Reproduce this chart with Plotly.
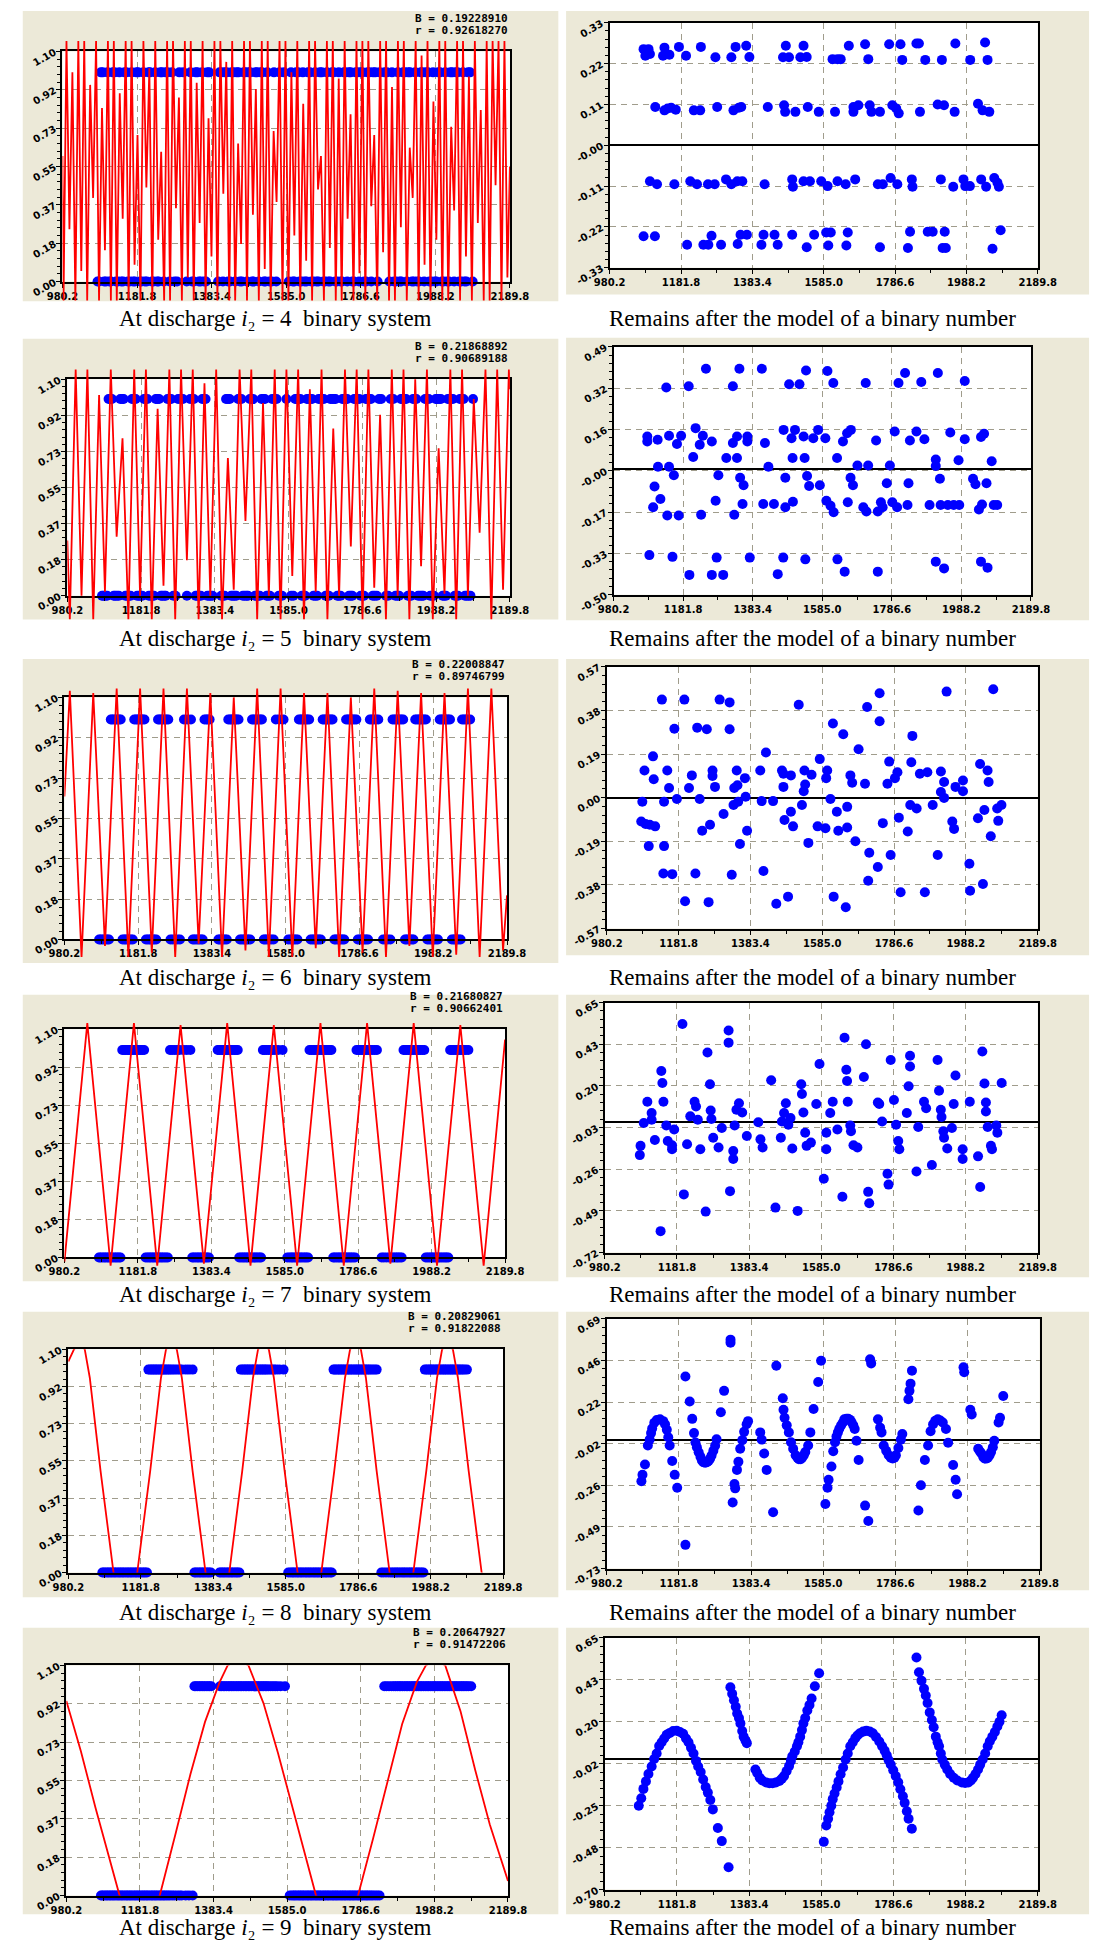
import numpy as np
import plotly.graph_objects as go

W, H = 1110, 1959

# ---------------------------------------------------------------- data
# observation times (read from the blue points)
obs_x = [1075, 1079, 1084, 1089, 1093, 1098, 1102, 1107, 1111, 1116, 1121, 1125, 1130, 1134, 1139,
         1144, 1148, 1153, 1157, 1162, 1167, 1171, 1176, 1180, 1185, 1190, 1194, 1199, 1203, 1208,
         1213, 1217, 1222, 1226, 1231, 1236, 1240, 1245, 1249, 1254, 1259, 1264, 1270, 1276, 1283,
         1290, 1296, 1307, 1316, 1326, 1331, 1335, 1340, 1345, 1349, 1354, 1358, 1363, 1368, 1372,
         1377, 1401, 1405, 1410, 1414, 1419, 1424, 1428, 1433, 1437, 1442, 1447, 1451, 1456, 1460,
         1465, 1470, 1474, 1479, 1483, 1488, 1493, 1497, 1502, 1506, 1511, 1516, 1520, 1525, 1529,
         1534, 1540, 1546, 1552, 1558, 1567, 1579, 1592, 1598, 1603, 1607, 1612, 1617, 1621, 1626,
         1630, 1635, 1640, 1644, 1649, 1653, 1658, 1663, 1667, 1672, 1676, 1681, 1686, 1690, 1695,
         1699, 1704, 1709, 1713, 1718, 1722, 1727, 1732, 1736, 1741, 1745, 1750, 1755, 1759, 1764,
         1768, 1773, 1778, 1782, 1787, 1791, 1796, 1801, 1805, 1810, 1815, 1820, 1826, 1832, 1838,
         1851, 1857, 1864, 1871, 1877, 1882, 1887, 1892, 1896, 1901, 1906, 1911, 1915, 1920, 1925,
         1930, 1934, 1939, 1944, 1949, 1953, 1958, 1963, 1968, 1972, 1977, 1982, 1987, 1991, 1996,
         2001, 2006, 2010, 2015, 2020, 2025, 2029, 2034, 2039, 2044, 2048, 2053, 2058, 2063, 2067,
         2072, 2077, 2082, 2089]
obs_origin = 1075                      # value 0 of the binary counter
digit_rank = [4, 5, 6, 7, 8, 9]        # i2 for the six rows

B_values = ["0.19228910", "0.21868892", "0.22008847", "0.21680827", "0.20829061", "0.20647927"]
r_values = ["0.92618270", "0.90689188", "0.89746799", "0.90662401", "0.91822088", "0.91472206"]

x_ticktext = ["980.2", "1181.8", "1383.4", "1585.0", "1786.6", "1988.2", "2189.8"]
x_range = (980.2, 2189.8)
left_range = (0.0, 1.1)
left_ticktext = ["0.00", "0.18", "0.37", "0.55", "0.73", "0.92", "1.10"]
right_ranges = [(-0.33, 0.33), (-0.50, 0.49), (-0.57, 0.57), (-0.72, 0.66), (-0.73, 0.69), (-0.70, 0.65)]
right_ticktext = [
    ["-0.33", "-0.22", "-0.11", "-0.00", "0.11", "0.22", "0.33"],
    ["-0.50", "-0.33", "-0.17", "-0.00", "0.16", "0.32", "0.49"],
    ["-0.57", "-0.38", "-0.19", "0.00", "0.19", "0.38", "0.57"],
    ["-0.72", "-0.49", "-0.26", "-0.03", "0.20", "0.43", "0.65"],
    ["-0.73", "-0.49", "-0.26", "-0.02", "0.22", "0.46", "0.69"],
    ["-0.70", "-0.48", "-0.25", "-0.02", "0.20", "0.43", "0.65"],
]

# ---- model curves (red), read as extremes of the sampled model
m1_start, m1_end = 0.60, 0.55
m1_trough_x = [983, 999, 1015, 1031, 1047, 1063, 1079, 1095, 1111, 1127, 1143, 1159, 1175, 1191, 1207,
               1223, 1239, 1255, 1271, 1287, 1303, 1319, 1335, 1351, 1367, 1383, 1399, 1415, 1431, 1447,
               1463, 1479, 1495, 1511, 1527, 1543, 1559, 1575, 1591, 1607, 1623, 1639, 1655, 1671, 1687,
               1703, 1719, 1735, 1751, 1767, 1783, 1799, 1815, 1831, 1847, 1863, 1879, 1895, 1911, 1927,
               1943, 1959, 1975, 1991, 2007, 2023, 2039, 2055, 2071, 2087, 2103, 2119, 2135, 2151, 2167, 2183]
m1_trough_y = [-0.09, 0.25, -0.09, 0.05, -0.09, 0.40, -0.09, 0.15, -0.09, -0.09, 0.30, -0.09, 0.08, -0.09, 0.45,
               -0.09, 0.20, -0.09, -0.09, 0.35, -0.09, 0.02, -0.09, 0.28, -0.09, 0.12, -0.09, 0.42, -0.09, -0.09,
               0.18, -0.09, 0.32, -0.09, 0.06, -0.09, 0.38, -0.09, -0.09, 0.22, -0.09, 0.10, -0.09, 0.44, -0.09,
               0.16, -0.09, -0.09, 0.30, -0.09, 0.04, -0.09, 0.36, -0.09, 0.14, -0.09, -0.09, 0.26, -0.09, 0.40,
               -0.09, 0.08, -0.09, 0.20, -0.09, -0.09, 0.34, -0.09, 0.12, -0.09, 0.28, -0.09, -0.09, 0.46, -0.09, 0.02]
m1_peak_x = [991, 1007, 1023, 1039, 1055, 1071, 1087, 1103, 1119, 1135, 1151, 1167, 1183, 1199, 1215,
             1231, 1247, 1263, 1279, 1295, 1311, 1327, 1343, 1359, 1375, 1391, 1407, 1423, 1439, 1455,
             1471, 1487, 1503, 1519, 1535, 1551, 1567, 1583, 1599, 1615, 1631, 1647, 1663, 1679, 1695,
             1711, 1727, 1743, 1759, 1775, 1791, 1807, 1823, 1839, 1855, 1871, 1887, 1903, 1919, 1935,
             1951, 1967, 1983, 1999, 2015, 2031, 2047, 2063, 2079, 2095, 2111, 2127, 2143, 2159, 2175]
m1_peak_y = [1.15, 1.00, 1.15, 1.15, 0.94, 1.15, 0.83, 1.15, 1.15, 0.90, 1.15, 1.15, 0.70, 1.15, 1.02,
             1.15, 0.62, 1.15, 1.15, 0.88, 1.15, 1.15, 0.95, 1.15, 0.78, 1.15, 1.15, 1.05, 1.15, 0.66,
             1.15, 1.15, 0.92, 1.15, 1.15, 0.72, 1.15, 1.15, 1.00, 1.15, 0.85, 1.15, 1.15, 0.60, 1.15,
             1.15, 0.97, 1.15, 0.80, 1.15, 1.15, 1.15, 0.70, 1.15, 1.15, 0.93, 1.15, 1.15, 0.64, 1.15,
             1.08, 1.15, 0.86, 1.15, 1.15, 0.74, 1.15, 1.15, 0.98, 1.15, 0.82, 1.15, 1.15, 1.15, 1.15]

m2_start, m2_end = 0.28, 1.05
m2_trough_x = [987, 1019, 1051, 1083, 1115, 1147, 1179, 1211, 1243, 1275, 1307, 1339, 1371, 1403, 1435,
               1467, 1499, 1531, 1563, 1595, 1627, 1659, 1691, 1723, 1755, 1787, 1819, 1851, 1883, 1915,
               1947, 1979, 2011, 2043, 2075, 2107, 2139, 2171]
m2_trough_y = [-0.12, 0.00, -0.12, 0.02, 0.30, -0.12, 0.00, -0.12, 0.05, -0.12,
               0.18, -0.12, 0.00, -0.12, 0.03, 0.38, -0.12, 0.00, -0.12, 0.10,
               -0.12, 0.02, -0.12, 0.00, 0.25, -0.12, 0.04, -0.12, 0.00, -0.12,
               0.15, -0.12, 0.01, -0.12, 0.00, 0.32, -0.12, 0.03]
m2_peak_x = [1003, 1035, 1067, 1099, 1131, 1163, 1195, 1227, 1259, 1291, 1323, 1355, 1387, 1419, 1451,
             1483, 1515, 1547, 1579, 1611, 1643, 1675, 1707, 1739, 1771, 1803, 1835, 1867, 1899, 1931,
             1963, 1995, 2027, 2059, 2091, 2123, 2155, 2187]
m2_peak_y = [1.15, 1.15, 1.02, 1.15, 0.80, 1.15, 1.15, 0.95, 1.15, 1.15,
             1.15, 1.08, 1.15, 0.70, 1.15, 1.15, 0.98, 1.15, 1.15, 1.15,
             1.05, 1.15, 0.85, 1.15, 1.15, 1.15, 0.92, 1.15, 1.15, 1.10,
             1.15, 0.75, 1.15, 1.15, 1.00, 1.15, 1.15, 1.15]

m3_start, m3_end = 0.65, 0.20
m3_peak_x = [995, 1059, 1123, 1187, 1251, 1315, 1379, 1443, 1507, 1571, 1635, 1699, 1763, 1827, 1891,
             1955, 2019, 2083, 2147]
m3_peak_y = [1.13, 1.12, 1.14, 1.14, 1.14, 1.14, 1.12, 1.10, 1.14, 1.14, 1.12, 1.12, 1.10, 1.14, 1.13,
             1.12, 1.12, 1.14, 1.14]
m3_trough_x = [1027, 1091, 1155, 1219, 1283, 1347, 1411, 1475, 1539, 1603, 1667, 1731, 1795, 1859, 1923,
               1987, 2051, 2115, 2179]
m3_trough_y = [-0.08, -0.03, -0.08, -0.06, -0.08, -0.02, -0.08, -0.05, -0.08, -0.08, -0.04, -0.08, -0.06,
               -0.08, -0.03, -0.08, -0.07, -0.08, -0.05]

m4_start, m4_end = -0.02, 1.05
m4_peak_x = [1043, 1171, 1299, 1427, 1555, 1683, 1811, 1939, 2067]
m4_peak_y = [1.13, 1.13, 1.12, 1.13, 1.12, 1.13, 1.13, 1.13, 1.12]
m4_trough_x = [1107, 1235, 1363, 1491, 1619, 1747, 1875, 2003, 2131]
m4_trough_y = [-0.04, -0.04, -0.03, -0.04, -0.04, -0.04, -0.03, -0.04, -0.04]

m5_x = [980.2, 996, 1011, 1026, 1040, 1070, 1106, 1139, 1172, 1208, 1238, 1252, 1267, 1282, 1296, 1326,
        1362, 1395, 1428, 1464, 1494, 1508, 1523, 1538, 1552, 1582, 1618, 1651, 1684, 1720, 1750, 1764,
        1779, 1794, 1808, 1838, 1874, 1907, 1940, 1976, 2006, 2020, 2035, 2050, 2064, 2094, 2130, 2163, 2189.8]
m5_y = [1.04, 1.10, 1.13, 1.10, 0.96, 0.50, 0.00, -0.12, 0.00, 0.50, 0.96, 1.10, 1.13, 1.10, 0.96, 0.50,
        0.00, -0.12, 0.00, 0.50, 0.96, 1.10, 1.13, 1.10, 0.96, 0.50, 0.00, -0.12, 0.00, 0.50, 0.96, 1.10,
        1.13, 1.10, 0.96, 0.50, 0.00, -0.12, 0.00, 0.50, 0.96, 1.10, 1.13, 1.10, 0.96, 0.50, 0.00, -0.12, -0.02]

m6_x = [980.2, 1020, 1060, 1100, 1126, 1180, 1236, 1280, 1320, 1360, 1400, 1422, 1450, 1479, 1520, 1560,
        1600, 1640, 1664, 1720, 1779, 1820, 1860, 1900, 1940, 1965, 1991, 2018, 2060, 2100, 2140, 2189.8]
m6_y = [0.93, 0.69, 0.42, 0.16, 0.00, -0.13, 0.00, 0.30, 0.58, 0.83, 1.02, 1.10, 1.13, 1.10, 0.92, 0.68,
        0.42, 0.16, 0.00, -0.13, 0.00, 0.27, 0.55, 0.82, 1.02, 1.10, 1.13, 1.10, 0.88, 0.60, 0.34, 0.07]

# ---- residuals (right column), (x, residual)
resid_1 = [(1076, 0.259), (1090, 0.259), (1081, 0.241), (1094, 0.246), (1135, 0.263), (1140, 0.246), (1149, 0.244),
           (1131, 0.241), (1176, 0.265), (1196, 0.241), (1238, 0.265), (1279, 0.237), (1324, 0.237), (1336, 0.265),
           (1366, 0.268), (1375, 0.238), (1470, 0.237), (1487, 0.237), (1478, 0.268), (1519, 0.237), (1537, 0.238),
           (1528, 0.268), (1610, 0.232), (1624, 0.232), (1633, 0.232), (1656, 0.268), (1702, 0.272), (1711, 0.232),
           (1770, 0.272), (1802, 0.272), (1807, 0.23), (1847, 0.274), (1854, 0.274), (1872, 0.23), (1919, 0.23),
           (1957, 0.274), (1999, 0.23), (2041, 0.277), (2048, 0.23),
           (1109, 0.103), (1135, 0.094), (1144, 0.099), (1154, 0.101), (1167, 0.096), (1218, 0.094), (1236, 0.094),
           (1284, 0.103), (1330, 0.094), (1345, 0.101), (1352, 0.103), (1427, 0.103), (1473, 0.108), (1476, 0.09),
           (1505, 0.09), (1540, 0.103), (1571, 0.09), (1617, 0.09), (1669, 0.103), (1669, 0.09), (1683, 0.108),
           (1715, 0.108), (1720, 0.09), (1744, 0.09), (1779, 0.108), (1790, 0.099), (1797, 0.086), (1857, 0.09),
           (1907, 0.11), (1925, 0.108), (1955, 0.09), (2021, 0.112), (2034, 0.094), (2053, 0.09),
           (1094, -0.097), (1114, -0.105), (1163, -0.105), (1208, -0.097), (1227, -0.105), (1258, -0.105),
           (1277, -0.105), (1309, -0.092), (1324, -0.105), (1341, -0.097), (1355, -0.097), (1418, -0.105),
           (1496, -0.092), (1498, -0.112), (1528, -0.097), (1546, -0.097), (1578, -0.097), (1596, -0.11),
           (1624, -0.097), (1647, -0.105), (1674, -0.092), (1738, -0.105), (1752, -0.105), (1774, -0.088),
           (1793, -0.105), (1834, -0.092), (1836, -0.112), (1916, -0.092), (1951, -0.112), (1980, -0.092),
           (1985, -0.11), (1998, -0.11), (2030, -0.092), (2044, -0.112), (2067, -0.088), (2076, -0.101), (2080, -0.112),
           (1076, -0.245), (1108, -0.245), (1199, -0.268), (1245, -0.268), (1259, -0.268), (1268, -0.244),
           (1295, -0.268), (1342, -0.266), (1350, -0.241), (1368, -0.241), (1409, -0.268), (1415, -0.241),
           (1446, -0.241), (1455, -0.268), (1496, -0.241), (1537, -0.275), (1558, -0.241), (1592, -0.235),
           (1605, -0.235), (1598, -0.27), (1649, -0.27), (1653, -0.235), (1744, -0.275), (1823, -0.277),
           (1829, -0.233), (1879, -0.233), (1893, -0.233), (1921, -0.277), (1930, -0.277), (1927, -0.233),
           (2062, -0.279), (2085, -0.229)]

resid_2 = [(1078, 0.132), (1078, 0.112), (1108, 0.119), (1133, 0.327), (1141, 0.135), (1164, 0.102), (1176, 0.135),
           (1198, 0.332), (1211, 0.05), (1218, 0.165), (1230, 0.099), (1239, 0.135), (1248, 0.402), (1265, 0.112),
           (1307, 0.046), (1326, 0.106), (1326, 0.332), (1338, 0.132), (1338, 0.046), (1345, 0.402), (1368, 0.132),
           (1368, 0.112), (1410, 0.402), (1419, 0.106), (1429, 0.011), (1473, 0.158), (1489, 0.34), (1496, 0.125),
           (1506, 0.158), (1499, 0.046), (1519, 0.34), (1531, 0.132), (1534, 0.046), (1538, 0.395), (1559, 0.125),
           (1573, 0.158), (1594, 0.125), (1600, 0.393), (1617, 0.345), (1628, 0.046), (1645, 0.112), (1657, 0.145),
           (1668, 0.158), (1687, 0.016), (1711, 0.345), (1718, 0.016), (1741, 0.116), (1781, 0.016), (1795, 0.152),
           (1806, 0.345), (1825, 0.385), (1839, 0.116), (1858, 0.152), (1872, 0.349), (1881, 0.121), (1914, 0.04),
           (1914, 0.014), (1920, 0.385), (1956, 0.148), (1980, 0.037), (1998, 0.353), (1998, 0.121), (2045, 0.13),
           (2054, 0.143), (2076, 0.033),
           (1099, -0.068), (1116, -0.118), (1095, -0.151), (1109, 0.011), (1141, 0.011), (1155, -0.023),
           (1136, -0.184), (1169, -0.184), (1084, -0.342), (1151, -0.349), (1200, -0.421), (1234, -0.181),
           (1265, -0.421), (1298, -0.421), (1276, -0.125), (1279, -0.352), (1284, -0.023), (1330, -0.181),
           (1347, -0.033), (1357, -0.063), (1354, -0.138), (1375, -0.352), (1414, -0.138), (1445, -0.138),
           (1456, -0.418), (1472, -0.352), (1478, -0.033), (1478, -0.151), (1500, -0.129), (1536, -0.359),
           (1541, -0.026), (1547, -0.066), (1578, -0.063), (1597, -0.125), (1609, -0.145), (1618, -0.171),
           (1629, -0.359), (1650, -0.408), (1659, -0.131), (1667, -0.033), (1674, -0.063), (1704, -0.151),
           (1713, -0.168), (1746, -0.408), (1746, -0.168), (1755, -0.131), (1760, -0.151), (1772, -0.055),
           (1788, -0.131), (1802, -0.151), (1832, -0.142), (1835, -0.055), (1896, -0.142), (1914, -0.368),
           (1938, -0.395), (1926, -0.037), (1928, -0.142), (1949, -0.142), (1966, -0.142), (1982, -0.142),
           (2022, -0.037), (2029, -0.059), (2039, -0.16), (2048, -0.14), (2045, -0.368), (2064, -0.392),
           (2061, -0.055), (2082, -0.142), (2092, -0.142)]

resid_3 = [(1080, -0.018), (1086, 0.118), (1077, -0.104), (1089, -0.115), (1101, -0.118), (1116, -0.125),
           (1098, -0.211), (1110, 0.18), (1112, 0.08), (1135, 0.427), (1141, -0.018), (1141, -0.211), (1139, -0.33),
           (1164, -0.333), (1150, 0.118), (1155, 0.042), (1170, 0.30), (1177, -0.006), (1198, 0.427), (1200, -0.451),
           (1211, 0.042), (1219, 0.097), (1229, -0.33), (1234, 0.305), (1241, -0.006), (1248, -0.144), (1261, 0.298),
           (1266, -0.455), (1270, -0.118), (1277, 0.118), (1277, 0.094), (1284, 0.047), (1297, 0.427), (1308, -0.071),
           (1325, 0.415), (1325, 0.298), (1331, -0.336), (1336, -0.032), (1349, -0.018), (1338, 0.042), (1345, 0.118),
           (1347, 0.054), (1354, -0.202), (1368, 0.085), (1370, 0.004), (1374, -0.144), (1411, 0.118), (1415, -0.015),
           (1420, -0.319), (1427, 0.197), (1447, -0.015), (1456, -0.462), (1472, 0.118), (1476, 0.104), (1497, 0.097),
           (1476, 0.047), (1479, -0.097), (1489, -0.431), (1497, -0.061), (1503, -0.125), (1519, 0.405),
           (1528, -0.032), (1533, 0.028), (1537, 0.057), (1535, 0.118), (1555, 0.10), (1546, -0.197), (1572, -0.125),
           (1578, 0.168), (1594, -0.133), (1599, 0.118), (1596, 0.085), (1608, -0.006), (1615, 0.323), (1617, -0.431),
           (1626, -0.061), (1630, -0.144), (1644, 0.276), (1651, -0.477), (1655, -0.13), (1655, -0.04), (1664, 0.097),
           (1669, 0.065), (1678, -0.19), (1687, 0.211), (1705, 0.061), (1711, 0.395), (1717, -0.24), (1714, -0.362),
           (1741, -0.302), (1746, 0.455), (1746, 0.333), (1755, -0.111), (1768, 0.061), (1773, 0.157), (1777, -0.25),
           (1789, 0.085), (1796, 0.111), (1800, -0.087), (1805, -0.412), (1825, -0.147), (1832, -0.032),
           (1850, -0.047), (1835, 0.154), (1838, 0.269), (1859, 0.104), (1880, 0.111), (1873, -0.412), (1895, -0.032),
           (1909, -0.25), (1918, 0.114), (1927, 0.068), (1918, 0.025), (1927, -0.001), (1934, 0.462), (1950, -0.104),
           (1955, -0.136), (1959, 0.047), (1980, 0.075), (1980, 0.028), (1998, -0.288), (2000, -0.405), (2022, -0.09),
           (2028, 0.147), (2036, -0.376), (2040, -0.054), (2049, 0.118), (2052, 0.068), (2058, -0.168), (2065, 0.472),
           (2076, -0.047), (2079, -0.101), (2088, -0.032)]

resid_4 = [(1080, -0.131), (1078, -0.182), (1089, -0.005), (1099, 0.113), (1111, 0.05), (1111, 0.013), (1120, -0.099),
           (1138, 0.282), (1141, 0.216), (1144, 0.113), (1152, -0.019), (1156, -0.104), (1168, -0.128), (1168, -0.15),
           (1136, -0.602), (1174, -0.041), (1197, 0.542), (1201, -0.399), (1210, -0.122), (1219, 0.032), (1231, 0.113),
           (1235, 0.086), (1240, 0.013), (1247, -0.15), (1262, -0.494), (1267, 0.385), (1274, 0.209), (1276, 0.064),
           (1278, 0.017), (1283, -0.086), (1298, -0.14), (1307, -0.032), (1326, 0.506), (1326, 0.439), (1330, -0.381),
           (1339, -0.159), (1339, -0.204), (1343, -0.019), (1348, 0.068), (1355, 0.104), (1364, 0.053), (1377, -0.077),
           (1409, -0.001), (1415, -0.095), (1421, -0.14), (1445, 0.231), (1457, -0.472), (1472, -0.086), (1475, 0.004),
           (1481, 0.05), (1486, 0.104), (1493, -0.014), (1499, 0.023), (1504, -0.146), (1519, -0.49), (1529, 0.209),
           (1531, 0.155), (1535, 0.053), (1540, -0.059), (1544, -0.131), (1556, -0.113), (1571, 0.10), (1580, 0.321),
           (1592, -0.313), (1599, -0.059), (1599, -0.15), (1610, 0.05), (1617, 0.113), (1630, -0.041), (1644, -0.412),
           (1650, 0.466), (1655, 0.289), (1657, 0.227), (1659, 0.113), (1666, -0.019), (1668, -0.05), (1675, -0.128),
           (1686, -0.14), (1704, 0.249), (1710, 0.43), (1716, -0.385), (1719, -0.448), (1743, 0.108), (1747, 0.10),
           (1755, 0.004), (1770, -0.285), (1773, -0.345), (1779, 0.343), (1788, 0.122), (1794, -0.014), (1800, -0.104),
           (1803, -0.15), (1824, 0.05), (1829, 0.198), (1833, 0.367), (1833, 0.307), (1851, -0.273), (1856, -0.027),
           (1872, 0.113), (1878, 0.077), (1894, -0.237), (1910, 0.343), (1914, 0.173), (1919, 0.068), (1921, 0.028),
           (1926, -0.05), (1928, -0.086), (1937, -0.146), (1950, -0.032), (1955, 0.10), (1960, 0.258), (1980, -0.15),
           (1980, -0.204), (2000, 0.113), (2023, -0.189), (2029, -0.358), (2035, 0.39), (2041, 0.213), (2045, 0.108),
           (2045, 0.059), (2050, -0.027), (2059, -0.131), (2062, -0.15), (2074, -0.019), (2077, -0.059), (2089, 0.216)]

resid_5 = [(1077, -0.234), (1080, -0.197), (1087, -0.138), (1095, -0.03), (1100, 0.003), (1104, 0.04), (1107, 0.066),
           (1113, 0.099), (1120, 0.114), (1129, 0.118), (1138, 0.108), (1143, 0.09), (1148, 0.059), (1152, 0.016),
           (1156, -0.03), (1163, -0.119), (1170, -0.197), (1177, -0.271), (1200, 0.362), (1200, -0.595), (1212, 0.22),
           (1219, 0.121), (1224, 0.04), (1228, -0.013), (1232, -0.04), (1237, -0.069), (1242, -0.095), (1246, -0.115),
           (1250, -0.125), (1255, -0.128), (1260, -0.126), (1264, -0.12), (1269, -0.105), (1273, -0.087), (1278, -0.06),
           (1283, -0.032), (1287, 0.005), (1299, 0.158), (1308, 0.28), (1326, 0.571), (1326, 0.553), (1332, -0.354),
           (1337, -0.249), (1339, -0.274), (1344, -0.169), (1348, -0.123), (1353, -0.049), (1359, 0.0), (1364, 0.047),
           (1371, 0.09), (1375, 0.108), (1409, 0.044), (1413, 0.003), (1420, -0.076), (1427, -0.169), (1445, -0.41),
           (1454, 0.423), (1472, 0.238), (1474, 0.173), (1477, 0.127), (1483, 0.084), (1489, 0.044), (1495, -0.012),
           (1501, -0.049), (1508, -0.086), (1513, -0.1), (1517, -0.108), (1522, -0.108), (1526, -0.1), (1531, -0.085),
           (1535, -0.067), (1543, -0.03), (1549, 0.044), (1558, 0.177), (1571, 0.33), (1579, 0.451), (1591, -0.363),
           (1597, -0.271), (1600, -0.225), (1608, -0.15), (1613, -0.063), (1618, -0.012), (1622, 0.02), (1626, 0.044),
           (1630, 0.065), (1635, 0.084), (1640, 0.1), (1644, 0.118), (1650, 0.122), (1655, 0.122), (1660, 0.115),
           (1664, 0.103), (1669, 0.085), (1673, 0.063), (1678, -0.003), (1684, -0.113), (1702, -0.372), (1711, -0.46),
           (1716, 0.46), (1719, 0.436), (1738, 0.118), (1744, 0.071), (1748, 0.044), (1754, -0.03), (1761, -0.06),
           (1768, -0.086), (1774, -0.1), (1779, -0.104), (1784, -0.1), (1788, -0.086), (1795, -0.045), (1802, 0.003),
           (1806, 0.035), (1823, 0.232), (1826, 0.28), (1829, 0.321), (1833, 0.395), (1851, -0.4), (1858, -0.256),
           (1869, -0.113), (1878, -0.03), (1885, 0.05), (1892, 0.09), (1898, 0.11), (1905, 0.118), (1912, 0.112),
           (1919, 0.1), (1928, 0.063), (1934, -0.015), (1948, -0.141), (1955, -0.225), (1959, -0.308), (1977, 0.414),
           (1979, 0.386), (1996, 0.173), (2000, 0.146), (2018, -0.049), (2023, -0.065), (2027, -0.076), (2032, -0.095),
           (2036, -0.104), (2040, -0.105), (2045, -0.1), (2050, -0.085), (2054, -0.067), (2059, -0.04), (2063, -0.003),
           (2075, 0.1), (2079, 0.127), (2088, 0.251)]

resid_6 = [(1075, -0.25), (1082, -0.21), (1088, -0.16), (1095, -0.12), (1102, -0.08), (1111, -0.04), (1118, 0.0),
           (1125, 0.03), (1132, 0.07), (1139, 0.09), (1146, 0.11), (1153, 0.13), (1162, 0.14), (1171, 0.15),
           (1181, 0.152), (1190, 0.145), (1199, 0.135), (1207, 0.11), (1214, 0.09), (1221, 0.06), (1228, 0.03),
           (1235, -0.01), (1241, -0.04), (1248, -0.07), (1255, -0.11), (1262, -0.15), (1268, -0.18), (1275, -0.22),
           (1282, -0.27), (1296, -0.37), (1307, -0.44), (1326, -0.58),
           (1331, 0.385), (1336, 0.35), (1341, 0.315), (1346, 0.28), (1350, 0.244), (1355, 0.22), (1359, 0.191),
           (1364, 0.15), (1368, 0.12), (1373, 0.10), (1377, 0.085), (1401, -0.056), (1406, -0.075), (1413, -0.10),
           (1420, -0.115), (1431, -0.126), (1440, -0.13), (1449, -0.13), (1458, -0.126), (1468, -0.118),
           (1475, -0.105), (1481, -0.091), (1488, -0.065), (1495, -0.038), (1500, -0.01), (1504, 0.015), (1511, 0.04),
           (1517, 0.068), (1521, 0.09), (1526, 0.12), (1531, 0.155), (1535, 0.191), (1540, 0.22), (1546, 0.26),
           (1552, 0.29), (1558, 0.324), (1567, 0.39), (1579, 0.46),
           (1592, -0.444), (1599, -0.356), (1604, -0.32), (1608, -0.285), (1613, -0.25), (1617, -0.215),
           (1622, -0.185), (1628, -0.153), (1633, -0.12), (1639, -0.082), (1646, -0.045), (1653, -0.003), (1659, 0.03),
           (1666, 0.068), (1673, 0.09), (1680, 0.112), (1686, 0.126), (1693, 0.138), (1702, 0.147), (1711, 0.152),
           (1720, 0.148), (1729, 0.138), (1738, 0.118), (1747, 0.094), (1755, 0.068), (1762, 0.045), (1768, 0.02),
           (1773, -0.005), (1779, -0.029), (1786, -0.06), (1793, -0.091), (1800, -0.125), (1806, -0.162),
           (1813, -0.2), (1818, -0.235), (1824, -0.28), (1829, -0.32), (1838, -0.374),
           (1851, 0.544), (1858, 0.465), (1865, 0.42), (1872, 0.376), (1877, 0.34), (1882, 0.30), (1888, 0.25),
           (1894, 0.209), (1899, 0.17), (1905, 0.12), (1910, 0.09), (1914, 0.068), (1919, 0.03), (1923, -0.003),
           (1930, -0.03), (1937, -0.056), (1945, -0.08), (1955, -0.10), (1965, -0.115), (1978, -0.126),
           (1987, -0.128), (1996, -0.126), (2003, -0.115), (2009, -0.10), (2016, -0.08), (2023, -0.056),
           (2029, -0.03), (2036, -0.003), (2043, 0.03), (2050, 0.068), (2056, 0.095), (2063, 0.12), (2070, 0.145),
           (2077, 0.174), (2083, 0.2), (2089, 0.235)]

residuals = [resid_1, resid_2, resid_3, resid_4, resid_5, resid_6]

# ---------------------------------------------------------------- layout geometry (pixels)
left_plot = [(48, 510, 47, 280), (53, 510, 379, 598), (50, 507, 701, 946),
             (50, 505, 1037, 1268), (54, 503, 1361, 1587), (52, 508, 1681, 1914)]
right_plot = [(613, 1055, 18, 266), (617, 1048, 346, 597), (610, 1055, 670, 935),
              (608, 1055, 1010, 1263), (610, 1057, 1330, 1583), (608, 1055, 1653, 1908)]
left_bg = [(7, 560, 6, 300), (7, 560, 338, 622), (7, 560, 662, 970),
           (7, 560, 1002, 1292), (7, 560, 1323, 1612), (7, 560, 1643, 1933)]
right_bg = [(568, 1108, 6, 293), (568, 1108, 337, 623), (568, 1108, 662, 962),
            (568, 1108, 1002, 1288), (568, 1108, 1323, 1605), (568, 1108, 1643, 1933)]
caption_y = [317, 641, 985, 1305, 1627, 1946]

BEIGE = "#ECE9D8"
GRID = "#A09C8C"
BLUE = "#0000FF"
RED = "#FF0000"


def xd(l, r):
    return [l / W, r / W]


def yd(t, b):
    return [1 - b / H, 1 - t / H]


def aid(n):
    return "" if n == 1 else str(n)


def interleave(start_x, start_y, ax, ay, bx, by, end_x, end_y):
    xs, ys = [start_x], [start_y]
    for i in range(max(len(ax), len(bx))):
        if i < len(ax):
            xs.append(ax[i]); ys.append(ay[i])
        if i < len(bx):
            xs.append(bx[i]); ys.append(by[i])
    xs.append(end_x); ys.append(end_y)
    return xs, ys


models = [
    interleave(x_range[0], m1_start, m1_trough_x, m1_trough_y, m1_peak_x, m1_peak_y, x_range[1], m1_end),
    interleave(x_range[0], m2_start, m2_trough_x, m2_trough_y, m2_peak_x, m2_peak_y, x_range[1], m2_end),
    interleave(x_range[0], m3_start, m3_peak_x, m3_peak_y, m3_trough_x, m3_trough_y, x_range[1], m3_end),
    interleave(x_range[0], m4_start, m4_peak_x, m4_peak_y, m4_trough_x, m4_trough_y, x_range[1], m4_end),
    (m5_x, m5_y),
    (m6_x, m6_y),
]

tickfont = dict(family="DejaVu Sans", size=10, color="black", weight="bold")
x_major = list(np.linspace(x_range[0], x_range[1], 7))
x_minor = [(x_major[i] + x_major[i + 1]) / 2 for i in range(6)]


def base_axis():
    return dict(showline=True, mirror=True, linecolor="black", linewidth=2,
                ticks="outside", ticklen=4, tickwidth=1, tickcolor="black",
                showgrid=True, gridcolor=GRID, griddash="6px,5px", gridwidth=1,
                tickfont=tickfont, zeroline=False, fixedrange=True)


def x_axis(dom, anchor):
    a = base_axis()
    a.update(domain=dom, anchor=anchor, range=[x_range[0], x_range[1] + 0.01],
             tickmode="array", tickvals=x_major, ticktext=x_ticktext,
             minor=dict(tickmode="array", tickvals=x_minor, ticks="outside", ticklen=3,
                        tickcolor="black", showgrid=False))
    return a


def y_axis(dom, anchor, lo, hi, ticktext, zero):
    a = base_axis()
    major = list(np.linspace(lo, hi, 7))
    minor = list(np.linspace(lo, hi, 31))
    a.update(domain=dom, anchor=anchor, range=[lo, hi], tickangle=-30,
             tickmode="array", tickvals=major, ticktext=ticktext,
             minor=dict(tickmode="array", tickvals=minor, ticks="outside", ticklen=3,
                        tickcolor="black", showgrid=False))
    if zero:
        a.update(zeroline=True, zerolinecolor="black", zerolinewidth=1.5)
    return a


fig = go.Figure()
layout = {}
shapes = []
annotations = []

for row in range(6):
    nl, nr = 2 * row + 1, 2 * row + 2
    lx0, lx1, ly0, ly1 = left_plot[row]
    rx0, rx1, ry0, ry1 = right_plot[row]

    # backgrounds
    for (bx0, bx1, by0, by1) in (left_bg[row], right_bg[row]):
        shapes.append(dict(type="rect", xref="paper", yref="paper", layer="below",
                           x0=bx0 / W, x1=bx1 / W, y0=1 - by1 / H, y1=1 - by0 / H,
                           fillcolor=BEIGE, line=dict(width=0)))
    for (px0, px1, py0, py1) in (left_plot[row], right_plot[row]):
        shapes.append(dict(type="rect", xref="paper", yref="paper", layer="below",
                           x0=px0 / W, x1=px1 / W, y0=1 - py1 / H, y1=1 - py0 / H,
                           fillcolor="white", line=dict(width=0)))

    # axes
    layout["xaxis" + aid(nl)] = x_axis(xd(lx0, lx1), "y" + aid(nl))
    layout["yaxis" + aid(nl)] = y_axis(yd(ly0, ly1), "x" + aid(nl), left_range[0], left_range[1],
                                       left_ticktext, False)
    layout["xaxis" + aid(nr)] = x_axis(xd(rx0, rx1), "y" + aid(nr))
    lo, hi = right_ranges[row]
    layout["yaxis" + aid(nr)] = y_axis(yd(ry0, ry1), "x" + aid(nr), lo, hi, right_ticktext[row], True)

    # binary digit of the observations
    shift = digit_rank[row] - 1
    bits = [((int(v) - obs_origin) >> shift) & 1 for v in obs_x]
    fig.add_trace(go.Scatter(x=obs_x, y=bits, mode="markers", cliponaxis=False,
                             marker=dict(color=BLUE, size=10, line=dict(width=0)),
                             xaxis="x" + aid(nl), yaxis="y" + aid(nl), hoverinfo="skip"))

    # model curve
    mx, my = models[row]
    if row < 4:
        # overlay axes so the strokes can run past the frame, as in the original
        no = 13 + row
        top_pad, bot_pad = 15, 26
        scale = (left_range[1] - left_range[0]) / (ly1 - ly0)
        layout["xaxis" + aid(no)] = dict(domain=xd(lx0, lx1), range=[x_range[0], x_range[1] + 0.01],
                                         visible=False, anchor="y" + aid(no), fixedrange=True)
        layout["yaxis" + aid(no)] = dict(domain=yd(ly0 - top_pad, ly1 + bot_pad),
                                         range=[left_range[0] - bot_pad * scale,
                                                left_range[1] + top_pad * scale],
                                         visible=False, anchor="x" + aid(no), fixedrange=True)
        xa, ya = "x" + aid(no), "y" + aid(no)
    else:
        xa, ya = "x" + aid(nl), "y" + aid(nl)
    fig.add_trace(go.Scatter(x=mx, y=my, mode="lines", line=dict(color=RED, width=1.8),
                             xaxis=xa, yaxis=ya, hoverinfo="skip"))

    # residuals
    res = residuals[row]
    fig.add_trace(go.Scatter(x=[p[0] for p in res], y=[p[1] for p in res], mode="markers",
                             cliponaxis=False, marker=dict(color=BLUE, size=10, line=dict(width=0)),
                             xaxis="x" + aid(nr), yaxis="y" + aid(nr), hoverinfo="skip"))

    # B / r texts
    for k, txt in enumerate(["B = " + B_values[row], "r = " + r_values[row]]):
        annotations.append(dict(xref="paper", yref="paper", x=lx1 / W, y=1 - (ly0 - 33 + 12 * k) / H,
                                xanchor="right", yanchor="middle", showarrow=False, text=txt,
                                font=dict(family="DejaVu Sans Mono", size=11, color="black", weight="bold")))

    # captions
    cap_font = dict(family="Liberation Serif", size=23, color="black")
    annotations.append(dict(xref="paper", yref="paper", x=268 / W, y=1 - caption_y[row] / H,
                            xanchor="center", yanchor="middle", showarrow=False, font=cap_font,
                            text="At discharge <i>i</i>\u2082 = %d  binary system" % digit_rank[row]))
    annotations.append(dict(xref="paper", yref="paper", x=822 / W, y=1 - caption_y[row] / H,
                            xanchor="center", yanchor="middle", showarrow=False, font=cap_font,
                            text="Remains after the model of a binary number"))

fig.update_layout(**layout)
fig.update_layout(width=W, height=H, margin=dict(l=0, r=0, t=0, b=0), autosize=False,
                  paper_bgcolor="white", plot_bgcolor="rgba(0,0,0,0)", showlegend=False,
                  shapes=shapes, annotations=annotations, hovermode=False)

fig.write_html("out.html", config={"displayModeBar": False},
               post_script="document.body.style.margin='0';")
